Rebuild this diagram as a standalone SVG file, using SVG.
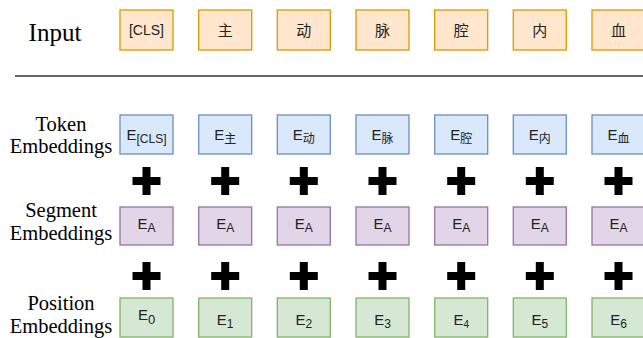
<svg xmlns="http://www.w3.org/2000/svg" width="643" height="338" viewBox="0 0 643 338">
<style>
.lbl{font-family:"Liberation Serif","Times New Roman",serif;fill:#000;text-anchor:middle;font-size:20.5px}
.bx{font-family:"Liberation Sans",Arial,"Noto Sans CJK SC",sans-serif;fill:#222;text-anchor:middle;font-size:15px}
.sub{font-size:12px}
.in rect{fill:#ffe6cc;stroke:#d79b00;stroke-width:1.3}
.tk rect{fill:#dae8fc;stroke:#6c8ebf;stroke-width:1.3}
.sg rect{fill:#e1d5e7;stroke:#9673a6;stroke-width:1.3}
.ps rect{fill:#d5e8d4;stroke:#82b366;stroke-width:1.3}
</style>
<defs>
<path id="plus" d="M-4,-14H4V-4H14V4H4V14H-4V4H-14V-4H-4Z" fill="#000"/>
</defs>
<text class="lbl" x="55" y="41" style="font-size:25px">Input</text>
<text class="lbl" x="61" y="131">Token</text>
<text class="lbl" x="61" y="153">Embeddings</text>
<text class="lbl" x="61" y="217">Segment</text>
<text class="lbl" x="61" y="240">Embeddings</text>
<text class="lbl" x="61" y="310">Position</text>
<text class="lbl" x="61" y="333">Embeddings</text>
<line x1="15" y1="76" x2="643" y2="76" stroke="#333" stroke-width="1.6"/>

<g class="in">
<g id="in0"><rect x="120" y="10" width="53" height="40"/><text class="bx" x="146.5" y="35" style="font-size:14px">[CLS]</text></g>
<g id="in1"><rect x="198.7" y="10" width="53" height="40"/><text class="bx" x="225.2" y="35.5">主</text></g>
<g id="in2"><rect x="277.3" y="10" width="53" height="40"/><text class="bx" x="303.8" y="35.5">动</text></g>
<g id="in3"><rect x="356" y="10" width="53" height="40"/><text class="bx" x="382.5" y="35.5">脉</text></g>
<g id="in4"><rect x="434.7" y="10" width="53" height="40"/><text class="bx" x="461.2" y="35.5">腔</text></g>
<g id="in5"><rect x="513.3" y="10" width="53" height="40"/><text class="bx" x="539.8" y="35.5">内</text></g>
<g id="in6"><rect x="592" y="10" width="53" height="40"/><text class="bx" x="618.5" y="35.5">血</text></g>
</g>

<g class="tk">
<g id="tk0"><rect x="120" y="115" width="53" height="39"/><text class="bx" x="146.5" y="140">E<tspan class="sub" dy="3">[CLS]</tspan></text></g>
<g id="tk1"><rect x="198.7" y="115" width="53" height="39"/><text class="bx" x="225.2" y="140">E<tspan class="sub" dy="3">主</tspan></text></g>
<g id="tk2"><rect x="277.3" y="115" width="53" height="39"/><text class="bx" x="303.8" y="140">E<tspan class="sub" dy="3">动</tspan></text></g>
<g id="tk3"><rect x="356" y="115" width="53" height="39"/><text class="bx" x="382.5" y="140">E<tspan class="sub" dy="3">脉</tspan></text></g>
<g id="tk4"><rect x="434.7" y="115" width="53" height="39"/><text class="bx" x="461.2" y="140">E<tspan class="sub" dy="3">腔</tspan></text></g>
<g id="tk5"><rect x="513.3" y="115" width="53" height="39"/><text class="bx" x="539.8" y="140">E<tspan class="sub" dy="3">内</tspan></text></g>
<g id="tk6"><rect x="592" y="115" width="53" height="39"/><text class="bx" x="618.5" y="140">E<tspan class="sub" dy="3">血</tspan></text></g>
</g>

<g id="plus1">
<use href="#plus" x="146.5" y="181"/><use href="#plus" x="225.2" y="181"/><use href="#plus" x="303.8" y="181"/><use href="#plus" x="382.5" y="181"/><use href="#plus" x="461.2" y="181"/><use href="#plus" x="539.8" y="181"/><use href="#plus" x="618.5" y="181"/>
</g>

<g class="sg">
<g id="sg0"><rect x="120" y="207" width="53" height="38"/><text class="bx" x="146.5" y="229">E<tspan class="sub" dy="3">A</tspan></text></g>
<g id="sg1"><rect x="198.7" y="207" width="53" height="38"/><text class="bx" x="225.2" y="229">E<tspan class="sub" dy="3">A</tspan></text></g>
<g id="sg2"><rect x="277.3" y="207" width="53" height="38"/><text class="bx" x="303.8" y="229">E<tspan class="sub" dy="3">A</tspan></text></g>
<g id="sg3"><rect x="356" y="207" width="53" height="38"/><text class="bx" x="382.5" y="229">E<tspan class="sub" dy="3">A</tspan></text></g>
<g id="sg4"><rect x="434.7" y="207" width="53" height="38"/><text class="bx" x="461.2" y="229">E<tspan class="sub" dy="3">A</tspan></text></g>
<g id="sg5"><rect x="513.3" y="207" width="53" height="38"/><text class="bx" x="539.8" y="229">E<tspan class="sub" dy="3">A</tspan></text></g>
<g id="sg6"><rect x="592" y="207" width="53" height="38"/><text class="bx" x="618.5" y="229">E<tspan class="sub" dy="3">A</tspan></text></g>
</g>

<g id="plus2">
<use href="#plus" x="146.5" y="276"/><use href="#plus" x="225.2" y="276"/><use href="#plus" x="303.8" y="276"/><use href="#plus" x="382.5" y="276"/><use href="#plus" x="461.2" y="276"/><use href="#plus" x="539.8" y="276"/><use href="#plus" x="618.5" y="276"/>
</g>

<g class="ps">
<g id="ps0"><rect x="120" y="298" width="53" height="39"/><text class="bx" x="146.5" y="320">E<tspan class="sub" dy="4" style="font-size:13px">0</tspan></text></g>
<g id="ps1"><rect x="198.7" y="298" width="53" height="39"/><text class="bx" x="225.2" y="325">E<tspan class="sub" dy="3">1</tspan></text></g>
<g id="ps2"><rect x="277.3" y="298" width="53" height="39"/><text class="bx" x="303.8" y="325">E<tspan class="sub" dy="3">2</tspan></text></g>
<g id="ps3"><rect x="356" y="298" width="53" height="39"/><text class="bx" x="382.5" y="325">E<tspan class="sub" dy="3">3</tspan></text></g>
<g id="ps4"><rect x="434.7" y="298" width="53" height="39"/><text class="bx" x="461.2" y="325">E<tspan class="sub" dy="3" style="font-size:10px">4</tspan></text></g>
<g id="ps5"><rect x="513.3" y="298" width="53" height="39"/><text class="bx" x="539.8" y="325">E<tspan class="sub" dy="3">5</tspan></text></g>
<g id="ps6"><rect x="592" y="298" width="53" height="39"/><text class="bx" x="618.5" y="325">E<tspan class="sub" dy="3">6</tspan></text></g>
</g>
</svg>
